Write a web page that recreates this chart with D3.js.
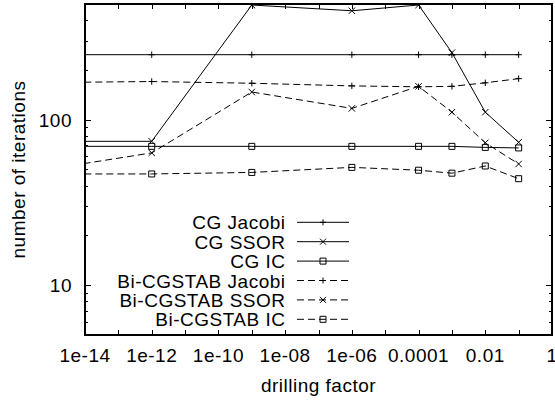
<!DOCTYPE html>
<html>
<head>
<meta charset="utf-8">
<script src="https://cdn.jsdelivr.net/npm/d3@7"></script>
<style>
  body { margin: 0; background: #fff; }
  svg text { font-family: "Liberation Sans", Arial, Helvetica, sans-serif; font-size: 19px; letter-spacing: 0.5px; fill: #000; }
</style>
</head>
<body>
<div id="chart"></div>
<script>
// drilling factor values (first one sits left of the visible range, line is clipped)
const drillingFactors = [1e-16, 1e-12, 1e-9, 1e-6, 1e-4, 1e-3, 1e-2, 1e-1];

const cgJacobi    = [247, 247, 247, 247, 247, 247, 247, 247];
const cgSSOR      = [74, 74, 493, 455, 493, 254, 111, 73];
const cgIC        = [69, 69, 69, 69, 69, 69, 68, 67.5];
const bicgJacobi  = [167, 170, 166, 160, 158, 159, 167, 177];
const bicgSSOR    = [47, 63, 147, 117, 159, 111, 72.5, 54];
const bicgIC      = [47, 47, 48, 51.5, 49.5, 47.5, 52.5, 44];

const seriesNames = ["CG Jacobi", "CG SSOR", "CG IC", "Bi-CGSTAB Jacobi", "Bi-CGSTAB SSOR", "Bi-CGSTAB IC"];
const seriesValues = [cgJacobi, cgSSOR, cgIC, bicgJacobi, bicgSSOR, bicgIC];
const seriesMarkers = ["plus", "cross", "square", "plus", "cross", "square"];
const seriesDashed = [false, false, false, true, true, true];

const xTickValues = [1e-14, 1e-12, 1e-10, 1e-8, 1e-6, 1e-4, 1e-2, 1];
const xTickLabels = ["1e-14", "1e-12", "1e-10", "1e-08", "1e-06", "0.0001", "0.01", "1"];
const yTickValues = [10, 100];

const width = 555, height = 403;
const margin = { top: 4, right: 3, bottom: 68, left: 85 };
const innerWidth = width - margin.left - margin.right;
const innerHeight = height - margin.top - margin.bottom;

const xScale = d3.scaleLog().domain([1e-14, 1]).range([0, innerWidth]);
const yScale = d3.scaleLog().domain([5, 500]).range([innerHeight, 0]);

const svg = d3.select("#chart")
    .append("svg")
    .attr("width", width)
    .attr("height", height);

svg.append("defs").append("clipPath")
    .attr("id", "plot-clip")
    .append("rect")
    .attr("width", innerWidth)
    .attr("height", innerHeight);

const innerChart = svg.append("g")
    .attr("transform", `translate(${margin.left}, ${margin.top})`);

// ticks (drawn inward on all four sides, gnuplot style)
const xMinor = d3.range(-14, 1).map(e => Math.pow(10, e));
const yMinor = [];
[1, 10, 100].forEach(base => d3.range(1, 10).forEach(m => {
    const v = base * m;
    if (v >= 5 && v <= 500 && v !== 10 && v !== 100) yMinor.push(v);
}));

const tickG = innerChart.append("g").attr("stroke", "#000").attr("stroke-width", 1);
xMinor.forEach(v => {
    const x = Math.round(xScale(v)) + 0.5;
    const len = 5;
    tickG.append("line").attr("x1", x).attr("x2", x).attr("y1", innerHeight).attr("y2", innerHeight - len);
    tickG.append("line").attr("x1", x).attr("x2", x).attr("y1", 0).attr("y2", len);
});
yMinor.forEach(v => {
    const y = Math.round(yScale(v)) + 0.5;
    tickG.append("line").attr("x1", 0).attr("x2", 3).attr("y1", y).attr("y2", y);
    tickG.append("line").attr("x1", innerWidth).attr("x2", innerWidth - 3).attr("y1", y).attr("y2", y);
});
yTickValues.forEach(v => {
    const y = Math.round(yScale(v)) + 0.5;
    tickG.append("line").attr("x1", 0).attr("x2", 6).attr("y1", y).attr("y2", y);
    tickG.append("line").attr("x1", innerWidth).attr("x2", innerWidth - 6).attr("y1", y).attr("y2", y);
});

// tick labels
innerChart.selectAll(".x-label")
    .data(xTickValues)
    .join("text")
    .attr("class", "x-label")
    .attr("x", d => xScale(d))
    .attr("y", innerHeight + 27)
    .attr("text-anchor", "middle")
    .text((d, i) => xTickLabels[i]);

innerChart.selectAll(".y-label")
    .data(yTickValues)
    .join("text")
    .attr("class", "y-label")
    .attr("x", -13)
    .attr("y", d => yScale(d) + 7)
    .attr("text-anchor", "end")
    .text(d => d);

// series
const line = d3.line()
    .x(d => xScale(d[0]))
    .y(d => yScale(d[1]));

const symbolPath = (type, s) => {
    if (type === "plus") return `M${-s},0H${s}M0,${-s}V${s}`;
    if (type === "cross") return `M${-s},${-s}L${s},${s}M${-s},${s}L${s},${-s}`;
    return `M${-s},${-s}H${s}V${s}H${-s}Z`;
};

const plotArea = innerChart.append("g").attr("clip-path", "url(#plot-clip)");

seriesValues.forEach((vals, i) => {
    const pts = drillingFactors.map((x, j) => [x, vals[j]]);
    plotArea.append("path")
        .datum(pts)
        .attr("d", line)
        .attr("fill", "none")
        .attr("stroke", "#000")
        .attr("stroke-width", 1)
        .attr("stroke-dasharray", seriesDashed[i] ? "7,4" : null);

    plotArea.selectAll(`.pt-${i}`)
        .data(pts.filter(p => p[0] >= 1e-14))
        .join("path")
        .attr("class", `pt-${i}`)
        .attr("transform", d => `translate(${xScale(d[0])}, ${yScale(d[1])})`)
        .attr("d", symbolPath(seriesMarkers[i], seriesMarkers[i] === "square" ? 3 : 3.2))
        .attr("fill", "none")
        .attr("stroke", "#000")
        .attr("stroke-width", 1);
});

// border
innerChart.append("rect")
    .attr("width", innerWidth)
    .attr("height", innerHeight)
    .attr("fill", "none")
    .attr("stroke", "#000")
    .attr("stroke-width", 2);

// legend
const legend = svg.append("g");
const legendTop = 222.3, legendStep = 19.4;
seriesNames.forEach((name, i) => {
    const y = legendTop + i * legendStep;
    legend.append("text")
        .attr("x", 285.5)
        .attr("y", y + 7)
        .attr("text-anchor", "end")
        .text(name);
    legend.append("line")
        .attr("x1", 297).attr("x2", 349)
        .attr("y1", y).attr("y2", y)
        .attr("stroke", "#000")
        .attr("stroke-width", 1)
        .attr("stroke-dasharray", seriesDashed[i] ? "7,4" : null);
    legend.append("path")
        .attr("transform", `translate(323, ${y})`)
        .attr("d", symbolPath(seriesMarkers[i], 3))
        .attr("fill", "none")
        .attr("stroke", "#000");
});

// axis titles
svg.append("text")
    .attr("x", margin.left + innerWidth / 2)
    .attr("y", 392)
    .attr("text-anchor", "middle")
    .text("drilling factor");

svg.append("text")
    .attr("transform", `translate(25, ${margin.top + innerHeight / 2}) rotate(-90)`)
    .attr("text-anchor", "middle")
    .text("number of iterations");
</script>
</body>
</html>
